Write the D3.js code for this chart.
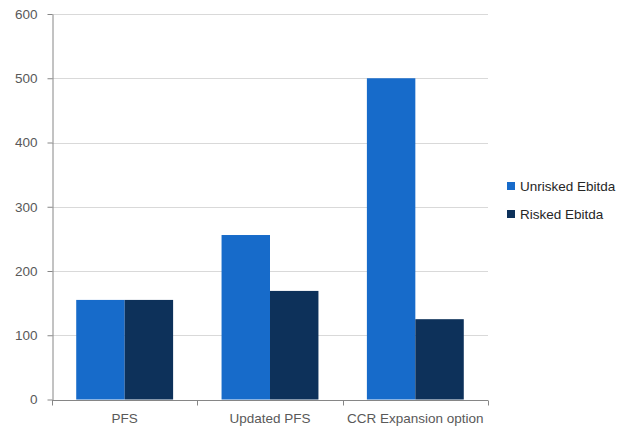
<!DOCTYPE html>
<html><head><meta charset="utf-8">
<script src="https://cdn.jsdelivr.net/npm/d3@7"></script>
<style>body{margin:0;background:#fff}svg{display:block}text{font-family:"Liberation Sans",Arial,sans-serif}</style>
</head><body>
<script>
const categories = ["PFS", "Updated PFS", "CCR Expansion option"];
const seriesNames = ["Unrisked Ebitda", "Risked Ebitda"];
const unrisked = [155, 256, 500];
const risked = [155, 169, 125];
const yTicks = [0, 100, 200, 300, 400, 500, 600];
const colors = ["#176bca", "#0d315a"];

const W = 633, H = 430;
const m = {left: 52, right: 145, top: 14, bottom: 30.5};
const svg = d3.select("body").append("svg").attr("width", W).attr("height", H);

const x = d3.scaleBand().domain(categories).range([m.left, W - m.right]).paddingInner(0).paddingOuter(0);
const y = d3.scaleLinear().domain([0, 600]).range([H - m.bottom, m.top]);
const inner = d3.scaleBand().domain(seriesNames).range([0, x.bandwidth()]).paddingInner(0).paddingOuter(0.5);

// gridlines
svg.append("g").selectAll("line").data(yTicks.filter(d => d > 0)).join("line")
  .attr("x1", m.left).attr("x2", W - m.right)
  .attr("y1", d => Math.round(y(d)) + 0.5).attr("y2", d => Math.round(y(d)) + 0.5)
  .attr("stroke", "#d9d9d9").attr("stroke-width", 1);

// bars
const data = categories.map((c, i) => ({c, vals: [unrisked[i], risked[i]]}));
svg.append("g").selectAll("g").data(data).join("g")
  .attr("transform", d => `translate(${x(d.c)},0)`)
  .selectAll("rect").data(d => d.vals.map((v, j) => ({v, s: seriesNames[j], j}))).join("rect")
  .attr("x", d => inner(d.s)).attr("width", inner.bandwidth())
  .attr("y", d => y(d.v)).attr("height", d => y(0) - y(d.v))
  .attr("fill", d => colors[d.j]);

// y axis
const yAxis = d3.axisLeft(y).tickValues(yTicks).tickSize(5).tickPadding(6).tickSizeOuter(0);
const gy = svg.append("g").attr("transform", `translate(${m.left + 0.5},0)`).call(yAxis);
gy.select(".domain").attr("stroke", "#868686");
gy.selectAll(".tick line").attr("stroke", "#868686");
gy.selectAll(".tick text").attr("fill", "#595959").style("font-size", "13.5px").attr("x", -15);

// x axis
const gx = svg.append("g").attr("transform", `translate(0,${Math.round(y(0)) + 0.5})`);
gx.append("line").attr("x1", m.left).attr("x2", W - m.right).attr("stroke", "#868686");
const bounds = [...categories.map(c => x(c)), x(categories[categories.length - 1]) + x.bandwidth()];
gx.selectAll("line.t").data(bounds).join("line").attr("class", "t")
  .attr("x1", d => Math.round(d) + 0.5).attr("x2", d => Math.round(d) + 0.5)
  .attr("y1", 0).attr("y2", 5).attr("stroke", "#868686");
gx.selectAll("text").data(categories).join("text")
  .attr("x", d => x(d) + x.bandwidth() / 2).attr("y", 22)
  .attr("text-anchor", "middle").attr("fill", "#595959").style("font-size", "13.5px").text(d => d);

// legend
const lg = svg.append("g").attr("transform", "translate(507,182)");
seriesNames.forEach((s, i) => {
  lg.append("rect").attr("x", 0).attr("y", i * 28).attr("width", 8).attr("height", 8).attr("fill", colors[i]);
  lg.append("text").attr("x", 13).attr("y", i * 28 + 8.5).attr("fill", "#262626")
    .style("font-size", "13.5px").text(s);
});
</script>
</body></html>
